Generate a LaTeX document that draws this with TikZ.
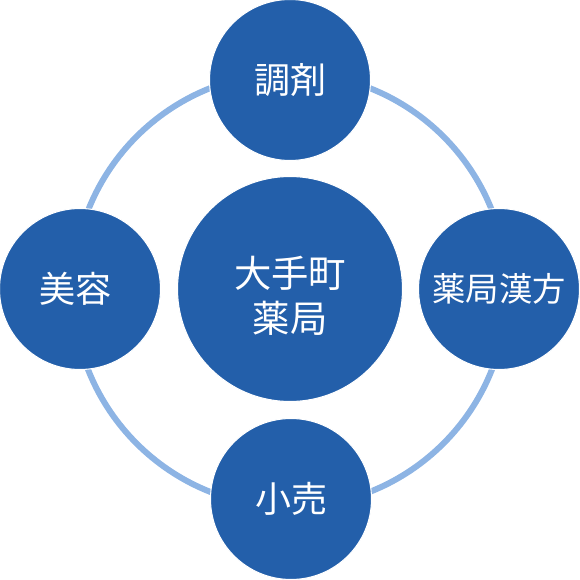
\documentclass[tikz,border=0pt]{standalone}
\usepackage{fontspec}
\setmainfont{Noto Sans CJK JP}
\definecolor{circblue}{RGB}{35,95,170}
\definecolor{ringblue}{RGB}{141,180,228}
\tikzset{
  hub/.style={circle, fill=circblue, draw=white, line width=0.8pt, inner sep=0pt, minimum size=225*0.75pt, text=white, font=\fontsize{28}{34}\selectfont, align=center},
  sat/.style={circle, fill=circblue, draw=white, line width=0.8pt, inner sep=0pt, minimum size=161*0.75pt, text=white, font=\fontsize{27}{33}\selectfont},
  satwide/.style={sat, font=\fontsize{25}{33}\selectfont},
  ring/.style={draw=ringblue, line width=6*0.75pt}
}
\begin{document}
\begin{tikzpicture}[x=0.75pt, y=-0.75pt]
\useasboundingbox (0,0) rectangle (580,580);
\coordinate (mid) at (290,290);
\draw[ring] (mid) circle[radius=217*0.75pt];
\node[hub] (c) at (290,289) {};
\node[text=white, font=\fontsize{28}{34}\selectfont, align=center] (ct) at (290,296) {大手町\\薬局};
\node[sat] (t) at (290,80) {調剤};
\node[sat] (l) at (80,289) {};
\node[text=white, font=\fontsize{27}{33}\selectfont] (lt) at (75,289) {美容};
\node[satwide] (r) at (499,289) {薬局漢方};
\node[sat] (b) at (291,499) {小売};
\end{tikzpicture}
\end{document}
